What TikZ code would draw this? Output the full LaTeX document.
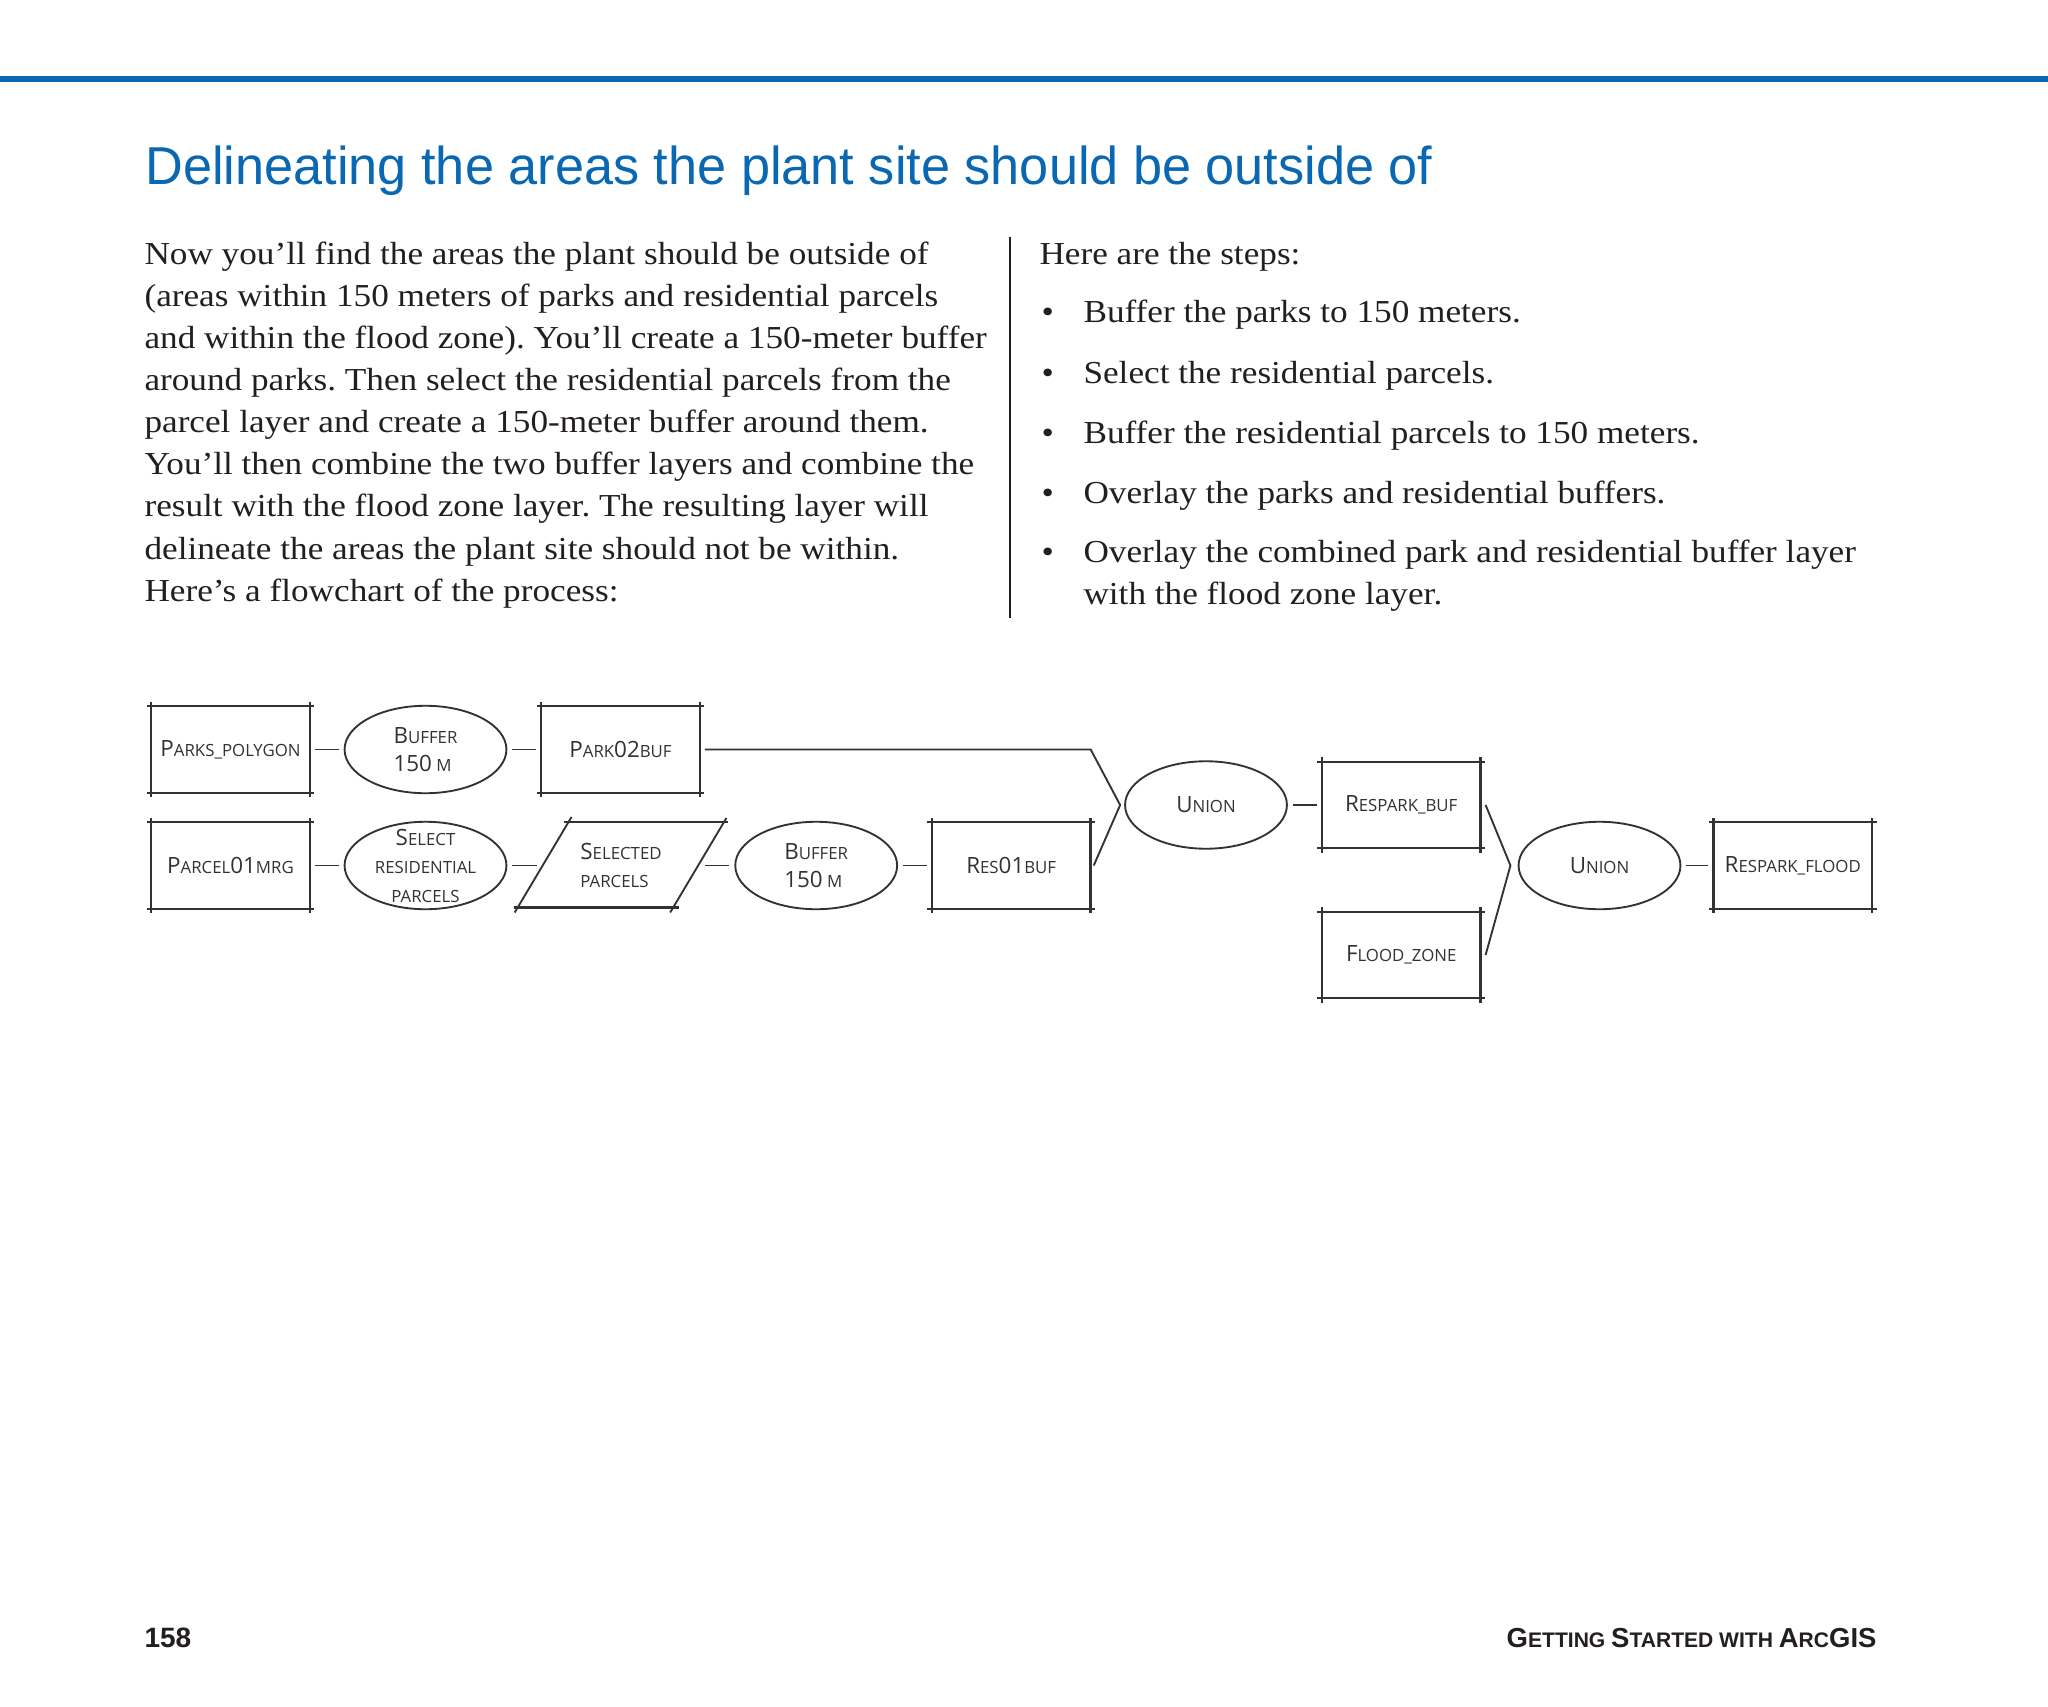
\documentclass[tikz,border=0pt]{standalone}
\usepackage{fontspec}
\usetikzlibrary{shapes.geometric}
\setmainfont{Liberation Serif}[FakeStretch=1.1]
\newfontfamily\titlefont{Liberation Sans}[FakeStretch=0.98]
\newfontfamily\footfont{Liberation Sans}
\newfontfamily\chartfont{Open Sans}
\definecolor{esriblue}{RGB}{10,104,178}
\definecolor{ink}{RGB}{35,31,32}
\definecolor{chartgray}{RGB}{50,50,50}
\newcommand\Bg[1]{{\fontsize{8.4}{10.7}\selectfont #1}}
\newcommand\Fb[1]{{\fontsize{10.3}{12}\selectfont #1}}
\newcommand\layerframe[1]{%
  \draw[edge] ([xshift=-1.7pt]#1.north west) -- ([xshift=1.7pt]#1.north east);
  \draw[edge] ([xshift=-1.7pt]#1.south west) -- ([xshift=1.7pt]#1.south east);
  \draw[edge] ([yshift=1.7pt]#1.north west) -- ([yshift=-1.7pt]#1.south west);
  \draw[edge] ([yshift=1.7pt]#1.north east) -- ([yshift=-1.7pt]#1.south east);}
\tikzset{
  body/.style={anchor=base west, inner sep=0pt, text=ink, font=\frenchspacing\fontsize{12}{15.75}\selectfont},
  lbl/.style={font=\chartfont\fontsize{6.3}{10.7}\selectfont, text=chartgray, inner sep=0pt},
  lbox/.style={lbl, rectangle, minimum width=59.1pt, minimum height=32pt},
  proc/.style={ellipse, draw=chartgray, line width=0.7pt, minimum width=60.7pt, minimum height=32.8pt, inner sep=0pt},
  conn/.style={draw=chartgray, line width=0.7pt, shorten <=1.9pt, shorten >=1.9pt},
  edge/.style={draw=chartgray, line width=0.85pt},
  thin/.style={draw=chartgray, line width=0.7pt},
}
\begin{document}
\begin{tikzpicture}[x=0.375pt, y=-0.375pt]
\useasboundingbox (0,0) rectangle (2048,1707);
\fill[white] (0,0) rectangle (2048,1707);
\fill[esriblue] (0,76) rectangle (2048,82);

\node[anchor=base west, inner sep=0pt, text=esriblue, font=\titlefont\fontsize{20}{24}\selectfont] (title) at (145,185) {Delineating the areas the plant site should be outside of};

% left column
\node[body] (L1) at (144,265) {Now you’ll find the areas the plant should be outside of};
\node[body] (L2) at (144,307) {(areas within 150 meters of parks and residential parcels};
\node[body] (L3) at (144,349) {and within the flood zone). You’ll create a 150-meter buffer};
\node[body] (L4) at (144,391) {around parks. Then select the residential parcels from the};
\node[body] (L5) at (144,433) {parcel layer and create a 150-meter buffer around them.};
\node[body] (L6) at (144,475) {You’ll then combine the two buffer layers and combine the};
\node[body] (L7) at (144,517) {result with the flood zone layer. The resulting layer will};
\node[body] (L8) at (144,559) {delineate the areas the plant site should not be within.};
\node[body] (L9) at (144,601) {Here’s a flowchart of the process:};

\draw[ink, line width=0.6pt] (1010,237) -- (1010,618);

% right column
\node[body] (R0) at (1039,265) {Here are the steps:};
\node[body] (B1) at (1041,323) {•};
\node[body] (R1) at (1083,323) {Buffer the parks to 150 meters.};
\node[body] (B2) at (1041,383.5) {•};
\node[body] (R2) at (1083,383.5) {Select the residential parcels.};
\node[body] (B3) at (1041,443.5) {•};
\node[body] (R3) at (1083,443.5) {Buffer the residential parcels to 150 meters.};
\node[body] (B4) at (1041,503.5) {•};
\node[body] (R4) at (1083,503.5) {Overlay the parks and residential buffers.};
\node[body] (B5) at (1041,563) {•};
\node[body] (R5) at (1083,563) {Overlay the combined park and residential buffer layer};
\node[body] (R6) at (1083,605) {with the flood zone layer.};

% flowchart: row 1
\node[lbox] (pp) at (230.5,749.5) {\Bg{P}ARKS\_POLYGON};
\layerframe{pp}
\node[proc] (buf1) at (425.5,749.5) {};
\node[lbl, align=left] (buf1t) at (buf1) {\Bg{B}UFFER\\\Bg{150} M};
\node[lbox] (p02) at (620.5,749.5) {\Bg{P}ARK\Bg{02}BUF};
\layerframe{p02}
\draw[conn] (pp.east) -- (buf1.west);
\draw[conn] (buf1.east) -- (p02.west);

% row 2
\node[lbox] (parc) at (230.5,865.5) {\Bg{P}ARCEL\Bg{01}MRG};
\layerframe{parc}
\node[proc] (sres) at (425.5,865.5) {};
\node[lbl, align=center] (srest) at (sres) {\Bg{S}ELECT\\RESIDENTIAL\\PARCELS};
\node[lbl, align=left] (selp) at (621,865.5) {\Bg{S}ELECTED\\PARCELS};
\coordinate (selW) at (542.5,865.5);
\coordinate (selE) at (699.5,865.5);
\draw[edge] (563.5,822) -- (728,822);
\draw[edge] (513.5,907.5) -- (678.5,907.5);
\draw[thin] (571.5,817) -- (514.7,912.5);
\draw[thin] (726.4,818) -- (670.2,912.5);
\node[proc] (buf2) at (816.2,865.5) {};
\node[lbl, align=left] (buf2t) at (buf2) {\Bg{B}UFFER\\\Bg{150} M};
\node[lbox] (res01) at (1011.2,865.5) {\Bg{R}ES\Bg{01}BUF};
\layerframe{res01}
\draw[conn] (parc.east) -- (sres.west);
\draw[conn] (sres.east) -- (selW);
\draw[conn] (selE) -- (buf2.west);
\draw[conn] (buf2.east) -- (res01.west);

% union 1
\node[proc] (u1) at (1206,805) {};
\node[lbl] (u1t) at (u1) {\Bg{U}NION};
\node[lbox] (rsp) at (1401.2,805) {\Bg{R}ESPARK\_BUF};
\layerframe{rsp}
\node[lbox] (fz) at (1401.2,955) {\Bg{F}LOOD\_ZONE};
\layerframe{fz}
\coordinate (k1) at (1090.7,749.5);
\coordinate (tip1) at ([xshift=-1.5pt]u1.west);
\draw[thin] ([xshift=1.9pt]p02.east) -- (k1) -- (tip1) -- ([xshift=1.2pt]res01.east);
\draw[conn] (u1.east) -- (rsp.west);

% union 2
\node[proc] (u2) at (1599.5,865.5) {};
\node[lbl] (u2t) at (u2) {\Bg{U}NION};
\node[lbox] (rfl) at (1792.7,865.5) {\Bg{R}ESPARK\_FLOOD};
\layerframe{rfl}
\coordinate (tip2) at ([xshift=-2.7pt]u2.west);
\draw[thin] ([xshift=1.9pt]rsp.east) -- (tip2) -- ([xshift=1.9pt]fz.east);
\draw[conn] (u2.east) -- (rfl.west);

% footer
\node[anchor=base west, inner sep=0pt, text=ink, font=\footfont\bfseries\fontsize{10.5}{12}\selectfont] (pg) at (144,1647) {158};
\node[anchor=base east, inner sep=0pt, text=ink, font=\footfont\bfseries\fontsize{7.9}{12}\selectfont] (rh) at (1877,1647) {\Fb{G}ETTING \Fb{S}TARTED WITH \Fb{A}RC\Fb{GIS}};
\end{tikzpicture}
\end{document}
